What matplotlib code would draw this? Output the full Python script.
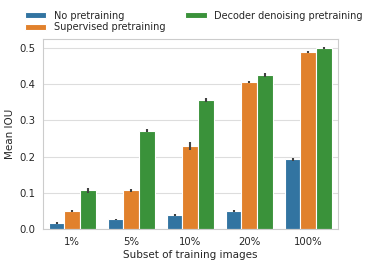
import matplotlib
matplotlib.use("Agg")
import matplotlib.pyplot as plt
import numpy as np
import seaborn as sns

subsets = ["1%", "5%", "10%", "20%", "100%"]
methods = ["No pretraining", "Supervised pretraining", "Decoder denoising pretraining"]
no_pre = [0.017, 0.027, 0.039, 0.051, 0.193]
sup_pre = [0.050, 0.107, 0.229, 0.407, 0.489]
dec_pre = [0.107, 0.272, 0.357, 0.426, 0.499]
no_err = [0.003, 0.002, 0.003, 0.003, 0.004]
sup_err = [0.003, 0.004, 0.011, 0.003, 0.003]
dec_err = [0.007, 0.005, 0.006, 0.005, 0.003]

sns.set_style("whitegrid")
plt.rcParams['font.family'] = ['DejaVu Sans']

colors = ["#3274a1", "#e1812c", "#3a923a"]

fig = plt.figure(figsize=(3.66, 2.67), dpi=100)
ax = fig.add_axes([0.117, 0.142, 0.806, 0.712])

x = np.arange(len(subsets))
w = 0.8 / 3
series = [(no_pre, no_err), (sup_pre, sup_err), (dec_pre, dec_err)]
for i, (vals, errs) in enumerate(series):
    ax.bar(x + (i - 1) * w, vals, width=w, color=colors[i], edgecolor="white",
           linewidth=0.8, label=methods[i], zorder=2)
    ax.errorbar(x + (i - 1) * w, vals, yerr=errs, fmt="none", ecolor="#424242",
                elinewidth=1.5, capsize=0, zorder=3)

ax.set_xlim(-0.5, 4.5)
ax.set_ylim(0, 0.525)
ax.set_xticks(x)
ax.set_xticklabels(subsets)
ax.set_yticks([0.0, 0.1, 0.2, 0.3, 0.4, 0.5])
ax.tick_params(labelsize=7.3, length=0, pad=5.5)
ax.set_xlabel("Subset of training images", fontsize=7.5, labelpad=2.5)
ax.set_ylabel("Mean IOU", fontsize=7.5, labelpad=3)
ax.grid(axis="x", visible=False)
ax.grid(axis="y", color="#dddddd", linewidth=0.8)
for s in ax.spines.values():
    s.set_color("#cccccc")
    s.set_linewidth(0.8)

fig.legend(loc="upper left", bbox_to_anchor=(0.05, 0.985), ncol=2, frameon=False,
           fontsize=7, handlelength=2.2, handleheight=0.6, labelspacing=0.15,
           columnspacing=2.0, borderaxespad=0.3)

fig.savefig("out.png", dpi=100)
